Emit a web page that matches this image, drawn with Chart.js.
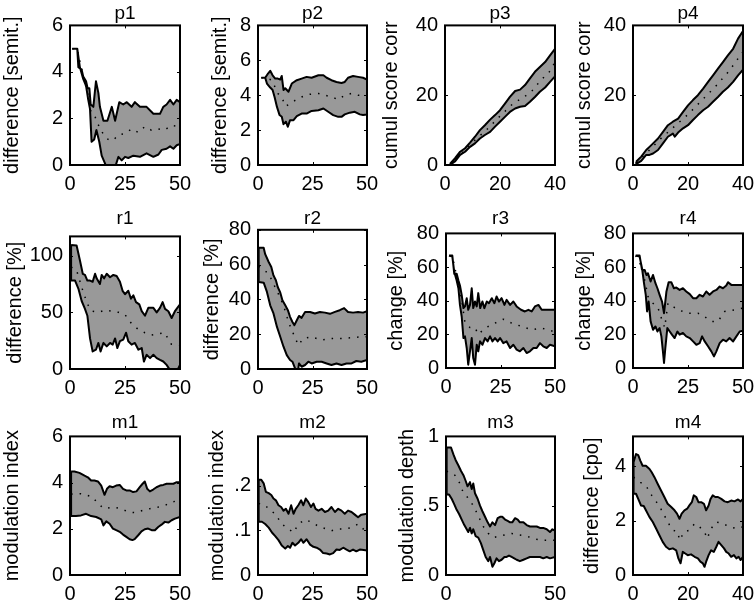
<!DOCTYPE html>
<html>
<head>
<meta charset="utf-8">
<script src="https://cdn.jsdelivr.net/npm/chart.js"></script>
<style>
html, body { margin: 0; padding: 0; background: #fff; overflow: hidden; }
#fig { position: relative; width: 755px; height: 600px; }
#fig canvas { position: absolute; }
</style>
</head>
<body>
<div id="fig"></div>
<script>
// ---- data: [x, y] pairs (upper edge, lower edge, mean) ----
const p1Up = [[1,5],[3.3,5],[3.8,4.2],[5.3,4.1],[6,3.8],[7.3,3.6],[8,3.3],[8.8,3.3],[9.4,2.6],[10.6,2.5],[11.8,3.6],[12.9,3.1],[13.6,2.5],[15.2,1.9],[17,1.9],[19,2.5],[20.5,1.9],[22.4,2.7],[24.2,2.6],[25.8,2.7],[28,2.5],[29.5,2.7],[31.8,2.5],[34.8,2.5],[37.9,2.2],[40.9,2.2],[42.4,2.5],[43.9,2.6],[45.5,2.8],[47,2.6],[48.5,2.8],[50,2.7]];
const p1Lo = [[1,5],[3.3,5],[4.5,4.2],[6,3.7],[7.3,3.4],[8.3,2.8],[9.1,2.4],[9.8,1.0],[11,1.1],[12,1.5],[13.3,1.0],[14.4,0.4],[15.9,0.07],[17.4,-0.3],[19,0],[20.5,-0.1],[22,0.35],[23.5,0.2],[25,0.35],[26.5,0.3],[28.8,0.4],[31.8,0.35],[34.8,0.5],[37.9,0.35],[40.2,0.45],[41.7,0.65],[43.9,0.7],[45.5,0.8],[47,0.7],[48.5,0.85],[50,0.9]];
const p1Mean = [[1,5],[3.3,5],[6,3.8],[8,3.1],[9.5,2.3],[11,2.2],[12,1.9],[14,1.5],[16,1.2],[18,1.05],[20,1.1],[22,1.3],[25,1.35],[28,1.55],[31,1.4],[34,1.65],[37,1.5],[40,1.55],[43,1.5],[46,1.7],[50,1.65]];

const p2Up = [[1.5,5],[3.3,5],[4.6,5.24],[5.6,5.4],[6.7,5.14],[7.9,4.95],[9.1,4.95],[10.2,4.9],[10.9,5.1],[11.7,4.3],[12.5,4.4],[14,4.2],[15.5,4.67],[17.8,4.86],[20,4.95],[22.3,5.05],[24.6,5],[27.7,5.14],[30,5.14],[31.5,5],[33.7,4.86],[36,4.76],[38.3,4.7],[39.8,4.76],[41.3,5],[43.6,5.1],[45.9,5.05],[48.2,5],[50,4.9]];
const p2Lo = [[1.5,5],[3.3,5],[4.1,4.67],[5.6,4.44],[6.7,4.3],[7.6,3.9],[8.7,3.33],[9.9,2.86],[10.9,2.76],[11.7,2.34],[12.8,2.48],[13.7,2.19],[14.7,2.57],[16.3,2.57],[17.8,2.8],[20,2.95],[22.3,2.95],[24.6,3.1],[27.7,3.14],[30,3.24],[32.2,3.05],[34.5,2.86],[36.8,2.76],[38.3,2.76],[39.8,2.9],[42.1,3],[44.4,3.05],[46.7,2.9],[48.2,2.86],[50,2.9]];
const p2Mean = [[1.5,5],[3.3,5],[6.4,4.86],[9.1,4.1],[10.9,3.9],[12.5,3.37],[14.7,3.5],[17,3.7],[20,3.9],[23,4.04],[27.7,4.1],[30.7,4],[33.7,3.9],[36.8,3.75],[39.8,4],[42.9,4.1],[45.9,4],[50,4]];

const p3Up = [[1.8,0.3],[3.6,1.9],[5.5,3.8],[7.3,4.8],[9.1,6.4],[10.9,8.1],[12.7,10],[14.5,11.4],[16.4,13],[18.2,14.3],[20,15.7],[21.8,17.6],[23.6,19.5],[25.5,21.2],[27.3,21.6],[29.1,22.9],[30.9,24.8],[32.7,26.7],[34.5,28.1],[36.4,29.5],[38.2,31.4],[40,33.3]];
const p3Lo = [[1.8,0],[3.6,1],[5.5,2.9],[7.3,3.8],[9.1,5.2],[10.9,6.2],[12.7,7.6],[14.5,8.6],[16.4,9.5],[18.2,11],[20,12.4],[21.8,13.8],[23.6,15.2],[25.5,16.2],[27.3,16.7],[29.1,16.9],[30.9,18.1],[32.7,19.5],[34.5,21],[36.4,22.2],[38.2,23.8],[40,25.4]];
const p3Mean = [[1.8,0.1],[5,2.5],[10,6.5],[15,10],[20,14],[25,17.8],[28.5,19.3],[32,21.5],[35,24.5],[37.6,26.2],[40,29.5]];

const p4Up = [[1.2,1],[3,2.4],[4.8,4.3],[6,5.2],[7.3,6.2],[9.1,7.6],[10.9,9.5],[12.7,11.4],[14.5,12.4],[16.4,13.3],[18.2,15.2],[20,17.1],[21.8,18.6],[23.6,20],[25.5,21.9],[27.3,23.8],[29.1,25.7],[30.9,27.6],[32.7,29.5],[34.5,31.4],[36.4,33.3],[38.2,36.2],[40,38.4]];
const p4Lo = [[1.2,0.3],[3,1.2],[4.8,2.9],[6,2.9],[7.3,3.3],[9.1,4.3],[10.9,6.2],[12.7,8.1],[14.5,9],[15.2,8.1],[16.4,9.3],[18.2,10.5],[20,11.4],[21.8,12.9],[23.6,14.3],[25.5,15.7],[27.3,16.7],[29.1,18.1],[30.9,19.5],[32.7,21],[34.5,22.2],[36.4,23.8],[38.2,25.7],[40,27.3]];
const p4Mean = [[1.2,0.6],[5,3.5],[10,7.5],[15,11],[20,14.5],[25,18.5],[30,22.5],[35,27],[40,32.5]];

const r1Up = [[0.5,109.5],[3,109],[4.5,96],[5.8,84],[6.8,83],[7.9,78],[9.1,78],[10.3,77],[11.4,84],[12.1,80],[13.6,75],[14.4,83],[15.5,80],[16.7,84],[18.2,81],[19.7,83],[21.2,82],[22.7,77],[23.9,69],[25,66],[26.5,69],[27.7,62],[28.8,65],[30,59],[31.5,57],[32.6,51],[34.1,47],[35.6,54],[37.9,54],[39.4,50],[40.9,54],[42.1,59],[43.2,53],[44.7,51],[46.2,45],[47.7,51],[50,57]];
const r1Lo = [[0.5,78],[2.3,78],[3.8,71],[5.3,60],[6.8,53],[7.9,47],[9.1,27],[10.3,15.5],[11.8,17],[12.9,23],[13.9,15.5],[15.2,23],[16.7,20],[18.2,23],[19.4,21.5],[20.5,27],[21.5,18.5],[22.7,24.5],[24.2,26],[25.5,32],[26.5,24.5],[28,21.5],[29.5,23],[31.1,17],[32.6,18.5],[33.6,6.6],[34.8,12.5],[36.4,9.6],[37.9,12.5],[39.4,9.6],[40.9,8],[42.4,6.6],[43.9,3.6],[45.5,-1],[46.7,-7],[48.5,-2.4],[50,3.6]];
const r1Mean = [[0.5,90],[3,87],[6,68],[8,57],[10,51],[13,50],[16,52],[19,51],[22,50],[25,48],[28,40],[31,35],[34,32],[37,30],[40,31],[43,32],[46,22],[50,21]];

const r2Up = [[0.3,69.7],[2.6,69.7],[3.3,66],[4.9,61.5],[6.1,58.6],[7.1,53.8],[8.2,51],[9.1,47],[10.2,44],[11.2,39.5],[12.5,36.6],[13.7,33.8],[14.7,30],[15.8,27],[16.7,25.2],[17.8,28],[18.8,30.5],[20,29.4],[21.6,32.8],[23.9,32.8],[26.1,31.9],[28.4,32.8],[30.7,32.4],[33,31.7],[35.3,32.8],[37.5,33.8],[39.5,35],[41.3,32.8],[43.6,32.4],[45.9,32.8],[48.2,32.4],[50,33.2]];
const r2Lo = [[0.3,50],[2.6,49.6],[4.1,44.3],[5.6,36.6],[7.1,31.9],[8.7,24.2],[10.2,18.5],[11.7,12.8],[13.2,8],[14.7,5.2],[15.8,4.2],[17,0.4],[18.1,-3.4],[18.8,3.2],[20,1.3],[21.6,2.3],[23.1,4.2],[24.6,3.2],[26.9,4.2],[29.2,4.2],[31.5,3.2],[33.7,2.3],[36,3.2],[38.3,2.3],[40.6,3.2],[42.9,3.2],[45.1,4.6],[47.4,4.2],[50,5.2]];
const r2Mean = [[0.3,59],[4.9,54.8],[7.1,49],[9.4,43],[11.7,36.6],[14,27],[16.3,20],[18.5,13.7],[20.8,17.6],[24.6,18.5],[29.2,16.6],[33.7,17.6],[38.3,17.6],[42.9,18],[47.4,18.5],[50,18.5]];

const r3Up = [[1.4,66.8],[2.9,66.8],[3.8,56],[4.9,56],[5.7,52],[6.4,49],[7.2,43.5],[8,35.6],[8.7,36.6],[9.5,41.5],[10.2,34.6],[11,37.5],[11.8,47.4],[12.5,35.6],[13.3,39.5],[14.1,36.6],[14.8,44.5],[15.7,35.6],[16.7,39.5],[17.6,35.6],[18.7,39.5],[19.7,38.5],[21,41.5],[22.2,38.5],[23.2,42.5],[24.3,39.5],[25.5,41.5],[26.8,37.5],[27.8,40.5],[29.4,37.5],[30.9,39.5],[32.4,36.6],[34.4,34.6],[36.2,33.6],[37.8,34.6],[39.3,33.6],[40.8,36.6],[42.4,37.5],[43.9,34.6],[46.2,34.6],[48.5,34.6],[50,34.6]];
const r3Lo = [[1.4,66.8],[2.9,66.2],[3.8,57],[4.9,52],[5.7,47.4],[6.4,37.5],[7.2,30.6],[8,17.8],[8.7,18.8],[9.5,11.9],[10.2,2],[11,9.9],[11.8,17.8],[12.5,5.9],[13.3,2],[14.1,13.8],[14.8,9.9],[15.6,15.8],[16.7,13.8],[17.9,17.8],[19.1,15.8],[20.2,18.8],[21.3,15.8],[22.5,17.8],[23.7,15.8],[24.8,17.8],[26.3,14.8],[27.8,15.8],[29.4,11.9],[30.9,13.8],[32.4,10.9],[33.9,9.9],[35.5,11.9],[37,8.9],[38.5,9.9],[40.1,11.9],[41.6,11.9],[43.1,14.8],[44.6,12.9],[46.2,11.9],[47.7,13.8],[50,12.9]];
const r3Mean = [[1.4,66.8],[3,66],[5,54],[7,42],[8.7,27],[11,24],[13.3,24],[14.8,20],[17.9,23.7],[22.5,26.7],[26.3,29],[30.1,26.7],[34.7,24.7],[39.3,22.7],[43.9,23.7],[48.5,22],[50,22.7]];

const r4Up = [[1.2,66.8],[3,66.8],[4.1,58.3],[5.3,58.3],[6.1,55.3],[6.8,56.3],[8,51.4],[9.1,55.3],[10.2,50.4],[11.1,47.4],[12.1,43.5],[13.2,39.5],[14.1,32.6],[15.2,45.5],[16.2,51],[17.4,51],[18.6,47.4],[19.7,47.8],[21.2,46.4],[22.7,47.4],[24.2,45.5],[25.8,43.9],[27.3,41.5],[28.8,41.5],[30.3,43.5],[31.8,42.5],[33.3,45.5],[34.8,43.5],[36.4,45.5],[37.9,46.4],[39.4,48.4],[40.9,47.4],[42.4,49],[43.2,51],[44.7,49.4],[47,49.4],[50,49.4]];
const r4Lo = [[1.2,66.8],[3,66.2],[4.1,59.3],[5,50.4],[5.8,43.5],[6.4,33.6],[7.1,39.5],[8,27.7],[9.1,22.7],[10.2,24.7],[11.1,21.7],[12.1,23.7],[12.9,18.8],[13.6,9.9],[14.1,3],[14.7,11.9],[15.6,23.7],[16.7,21.7],[17.7,19.8],[18.9,17.8],[20.2,21.7],[21.2,19.8],[22.7,20.8],[24.2,18.8],[25.8,17.8],[27.3,15.8],[28.8,13.8],[30.3,14.8],[31.4,18.8],[32.6,15.8],[34.1,12.9],[35.6,9.9],[36.8,6.9],[37.9,9.9],[39.4,14.8],[40.9,16.8],[42.4,15.8],[43.9,17.8],[45.5,15.8],[47,18.8],[48.5,21.7],[50,22.1]];
const r4Mean = [[1.2,66.8],[4,60],[6,48],[6.8,42.5],[9.1,38.5],[11.4,35.6],[12.9,29.6],[14.4,24],[15.9,38.5],[20.4,34.6],[25,32.6],[29.5,32.6],[32,31],[35.6,27.7],[38.6,27.7],[41.7,33.6],[46.2,34.6],[50,35.6]];

const m1Up = [[0.5,4.48],[2,4.48],[4.3,4.42],[6.6,4.3],[8.1,4.23],[9.6,4.09],[11.1,4.09],[12.7,4.05],[14.2,3.87],[15.7,3.47],[16.8,3.73],[18,3.84],[19.5,3.8],[21,3.87],[22.6,3.9],[24.1,3.73],[25.6,3.66],[27.1,3.66],[28.7,3.59],[30.2,3.62],[31.7,3.8],[33,3.95],[34,4.05],[35.1,3.73],[36.3,3.62],[37.8,3.7],[39.3,3.8],[40.9,3.87],[42.4,3.9],[43.9,3.95],[45.4,3.95],[47,3.95],[48.5,4.02],[50,4.02]];
const m1Lo = [[0.5,2.55],[2.7,2.55],[5,2.58],[7.3,2.65],[9.6,2.55],[11.9,2.51],[14.2,2.41],[15.2,2.15],[16.5,2.32],[18,2.22],[19.5,2.01],[21,1.94],[22.6,1.87],[24.1,1.75],[25.6,1.65],[27.1,1.55],[28.4,1.51],[29.4,1.55],[31,1.72],[32.5,1.89],[34,1.98],[35.5,2.01],[37.1,1.94],[38.6,1.94],[40.1,2.08],[41.6,2.18],[43.1,2.3],[44.7,2.27],[46.2,2.37],[47.7,2.44],[50,2.51]];
const m1Mean = [[0.5,3.5],[5,3.52],[8.1,3.44],[10.4,3.37],[12.7,3.08],[15.7,2.87],[19.5,2.94],[23.3,2.87],[26.4,2.73],[29.4,2.7],[33.2,2.8],[36.3,2.87],[40.1,2.94],[43.1,3.01],[46.2,3.16],[50,3.23]];

const m2Up = [[0.3,0.213],[1.5,0.213],[2.6,0.205],[3.6,0.186],[4.9,0.183],[6.1,0.179],[7.1,0.171],[8.2,0.167],[9.4,0.156],[10.6,0.152],[11.7,0.144],[12.8,0.148],[14,0.137],[15.2,0.156],[16.3,0.137],[17.3,0.148],[18.5,0.156],[19.8,0.167],[20.8,0.156],[21.9,0.171],[23.1,0.163],[24.3,0.152],[25.4,0.16],[26.4,0.148],[27.7,0.144],[29.2,0.148],[30.7,0.141],[32.2,0.144],[33.7,0.152],[35.3,0.141],[36.8,0.148],[38.3,0.144],[39.8,0.137],[41.3,0.144],[42.9,0.141],[44.4,0.135],[45.9,0.129],[47.4,0.135],[50,0.137]];
const m2Lo = [[0.3,0.119],[1.8,0.119],[3.3,0.114],[4.9,0.106],[6.4,0.095],[7.9,0.087],[9.4,0.078],[10.9,0.066],[12.5,0.059],[13.7,0.065],[14.7,0.061],[15.8,0.072],[17,0.066],[18.5,0.072],[19.8,0.08],[20.8,0.072],[22.3,0.08],[23.9,0.068],[25.4,0.063],[26.9,0.061],[28.4,0.057],[29.9,0.049],[31.5,0.048],[33,0.046],[34.5,0.049],[36,0.057],[37.5,0.056],[39.1,0.061],[40.6,0.057],[42.1,0.053],[43.6,0.057],[45.1,0.053],[46.7,0.057],[48.5,0.056],[50,0.055]];
const m2Mean = [[0.3,0.16],[3.3,0.156],[5.6,0.144],[7.9,0.137],[10.9,0.114],[14,0.103],[16.3,0.095],[18.5,0.114],[21.6,0.124],[24.6,0.118],[27.7,0.109],[30.7,0.104],[33.7,0.099],[36.8,0.103],[39.8,0.103],[42.9,0.106],[45.9,0.114],[50,0.095]];

const m3Up = [[0.3,0.92],[2.3,0.92],[3.4,0.87],[4.4,0.83],[5.7,0.79],[6.9,0.75],[8,0.72],[9,0.68],[9.9,0.64],[11,0.67],[11.8,0.62],[12.5,0.66],[13.3,0.59],[14.5,0.55],[15.6,0.5],[16.7,0.46],[17.9,0.42],[19.1,0.38],[20.2,0.35],[21.3,0.38],[22.5,0.36],[23.7,0.41],[24.8,0.42],[25.8,0.42],[27.1,0.4],[28.3,0.39],[29.4,0.38],[30.4,0.38],[31.7,0.41],[32.9,0.4],[33.9,0.38],[35.5,0.38],[37,0.36],[38.5,0.35],[40.1,0.35],[41.6,0.35],[43.1,0.34],[44.6,0.34],[46.2,0.33],[47.7,0.31],[48.8,0.33],[50,0.32]];
const m3Lo = [[0.3,0.58],[1.4,0.58],[2.6,0.55],[3.8,0.51],[4.9,0.47],[6,0.44],[7.2,0.4],[8.4,0.36],[9.5,0.33],[10.2,0.31],[11,0.34],[11.8,0.3],[12.5,0.33],[13.6,0.28],[14.8,0.27],[16,0.23],[17.1,0.18],[18.2,0.13],[19.4,0.1],[20.2,0.13],[21.3,0.06],[22.2,0.085],[23.2,0.12],[24.3,0.1],[25.5,0.11],[26.8,0.13],[27.8,0.13],[28.9,0.14],[30.1,0.13],[31.3,0.12],[32.4,0.11],[33.9,0.1],[35.5,0.11],[37,0.12],[38.5,0.13],[40.1,0.13],[41.6,0.13],[43.1,0.13],[44.6,0.12],[46.2,0.13],[47.7,0.12],[50,0.13]];
const m3Mean = [[0.3,0.75],[4.1,0.72],[6.4,0.66],[8,0.59],[9.9,0.56],[12.1,0.51],[14.1,0.45],[15.6,0.4],[17.1,0.35],[19.4,0.3],[21.7,0.27],[24.2,0.28],[27.1,0.29],[30.1,0.3],[33.1,0.29],[37,0.28],[40.8,0.26],[43.9,0.25],[46.9,0.25],[50,0.25]];

const m4Up = [[0.2,4.15],[1.1,4.45],[1.9,4.41],[2.7,4.2],[3.5,4.02],[4.7,4.02],[6,3.9],[6.8,3.78],[7.8,3.6],[9,3.35],[10.2,3.11],[11.4,2.87],[12.6,2.62],[13.9,2.5],[15.1,2.38],[16,2.26],[16.9,2.07],[17.7,2.26],[18.7,2.38],[19.7,2.44],[20.5,2.56],[21.4,2.68],[22.1,2.93],[23,2.87],[23.8,2.68],[24.8,2.68],[25.8,2.62],[26.6,2.38],[27.5,2.56],[28.2,2.8],[29,2.93],[29.9,2.87],[30.9,2.87],[32.1,2.8],[33.3,2.71],[34.5,2.68],[35.7,2.74],[36.9,2.71],[38.2,2.78],[39.1,2.71],[40,2.8]];
const m4Lo = [[0.2,2.99],[1.1,2.99],[1.9,2.8],[2.9,2.56],[3.9,2.54],[4.7,2.38],[6,2.13],[7.2,1.95],[8.4,1.71],[9.6,1.46],[10.8,1.22],[12,1.04],[13.2,0.95],[14.5,0.98],[15.7,0.91],[16.5,0.61],[17.3,0.43],[18.1,0.85],[19,0.79],[19.9,0.73],[21.1,0.76],[22.4,0.67],[23.6,0.61],[24.5,0.49],[25.4,0.43],[26,0.3],[26.6,0.49],[27.5,0.73],[28.4,0.91],[29.4,0.85],[30.3,1.04],[31.1,1.22],[32.1,1.1],[33.1,0.98],[33.9,0.85],[34.8,0.79],[35.7,0.67],[36.7,0.73],[37.6,0.61],[38.4,0.67],[39.1,0.55],[40,0.67]];
const m4Mean = [[0.2,3.6],[2.7,3.41],[4.7,3.29],[6.8,2.93],[9,2.62],[10.8,2.32],[12.6,1.95],[14.5,1.65],[16.3,1.59],[16.9,1.28],[18.7,1.59],[20.5,1.65],[22.4,1.89],[24.2,1.77],[26,1.59],[27,1.34],[28.4,1.71],[30.3,1.95],[32.7,1.89],[35.1,1.77],[37.6,1.71],[40,1.77]];

// tick values
const xTicks50 = [0, 25, 50];
const xTicks40 = [0, 20, 40];
const xTicksM3 = [0, 50];
const yTicks6 = [0, 2, 4, 6];
const yTicks8 = [0, 2, 4, 6, 8];
const yTicks40 = [0, 20, 40];
const yTicksR1 = [0, 50, 100];
const yTicks80 = [0, 20, 40, 60, 80];
const yTicksM2 = [0, 0.1, 0.2];
const yTicksM3 = [0, 0.5, 1];
const yTicksM4 = [0, 2, 4];

Chart.defaults.font.family = "'Liberation Sans', Arial, Helvetica, sans-serif";
Chart.defaults.color = '#000';

// matlab style labels: .5 instead of 0.5
function fmtTick(v) {
    if (v > 0 && v < 1) return String(v).replace(/^0/, '');
    return String(v);
}

// black frame + small inward tick marks on all four sides
const boxPlugin = {
    id: 'box',
    afterDatasetsDraw(chart) {
        const { ctx, chartArea: a, scales } = chart;
        ctx.save();
        ctx.strokeStyle = '#000';
        ctx.lineWidth = 1;
        ctx.beginPath();
        scales.x.ticks.forEach(t => {
            const px = Math.round(scales.x.getPixelForValue(t.value)) + 0.5;
            ctx.moveTo(px, a.bottom); ctx.lineTo(px, a.bottom - 3);
            ctx.moveTo(px, a.top); ctx.lineTo(px, a.top + 3);
        });
        scales.y.ticks.forEach(t => {
            const py = Math.round(scales.y.getPixelForValue(t.value)) + 0.5;
            ctx.moveTo(a.left, py); ctx.lineTo(a.left + 3, py);
            ctx.moveTo(a.right, py); ctx.lineTo(a.right - 3, py);
        });
        ctx.stroke();
        ctx.lineWidth = 2;
        ctx.strokeRect(a.left, a.top, a.right - a.left, a.bottom - a.top);
        ctx.restore();
    }
};

// panel layout: box = [left, top, right, bottom] of the plot frame
const panels = [
    { title: 'p1', ylabel: 'difference [semit.]', up: p1Up, lo: p1Lo, mean: p1Mean, xMax: 50, xTicks: xTicks50, yMax: 6, yTicks: yTicks6, box: [70, 25, 180, 165], titleY: 13, labelOff: 58 },
    { title: 'p2', ylabel: 'difference [semit.]', up: p2Up, lo: p2Lo, mean: p2Mean, xMax: 50, xTicks: xTicks50, yMax: 8, yTicks: yTicks8, box: [258, 25, 367, 165], titleY: 13, labelOff: 38 },
    { title: 'p3', ylabel: 'cumul score corr', up: p3Up, lo: p3Lo, mean: p3Mean, xMax: 40, xTicks: xTicks40, yMax: 40, yTicks: yTicks40, box: [445, 25, 555, 165], titleY: 13, labelOff: 54 },
    { title: 'p4', ylabel: 'cumul score corr', up: p4Up, lo: p4Lo, mean: p4Mean, xMax: 40, xTicks: xTicks40, yMax: 40, yTicks: yTicks40, box: [633, 25, 743, 165], titleY: 13, labelOff: 49 },
    { title: 'r1', ylabel: 'difference [%]', up: r1Up, lo: r1Lo, mean: r1Mean, xMax: 50, xTicks: xTicks50, yMax: 117, yTicks: yTicksR1, box: [70, 236, 180, 369], titleY: 218, labelOff: 55 },
    { title: 'r2', ylabel: 'difference [%]', up: r2Up, lo: r2Lo, mean: r2Mean, xMax: 50, xTicks: xTicks50, yMax: 80, yTicks: yTicks80, box: [258, 229, 367, 369], titleY: 218, labelOff: 46 },
    { title: 'r3', ylabel: 'change [%]', up: r3Up, lo: r3Lo, mean: r3Mean, xMax: 50, xTicks: xTicks50, yMax: 80, yTicks: yTicks80, box: [446, 233, 555, 368], titleY: 218, labelOff: 50 },
    { title: 'r4', ylabel: 'change [%]', up: r4Up, lo: r4Lo, mean: r4Mean, xMax: 50, xTicks: xTicks50, yMax: 80, yTicks: yTicks80, box: [633, 233, 743, 368], titleY: 218, labelOff: 49 },
    { title: 'm1', ylabel: 'modulation index', up: m1Up, lo: m1Lo, mean: m1Mean, xMax: 50, xTicks: xTicks50, yMax: 6, yTicks: yTicks6, box: [70, 436, 180, 575], titleY: 422, labelOff: 58 },
    { title: 'm2', ylabel: 'modulation index', up: m2Up, lo: m2Lo, mean: m2Mean, xMax: 50, xTicks: xTicks50, yMax: 0.31, yTicks: yTicksM2, box: [258, 436, 367, 575], titleY: 422, labelOff: 41 },
    { title: 'm3', ylabel: 'modulation depth', up: m3Up, lo: m3Lo, mean: m3Mean, xMax: 50, xTicks: xTicksM3, yMax: 1, yTicks: yTicksM3, box: [446, 436, 555, 575], titleY: 422, labelOff: 39 },
    { title: 'm4', ylabel: 'difference [cpo]', up: m4Up, lo: m4Lo, mean: m4Mean, xMax: 40, xTicks: xTicks40, yMax: 5.1, yTicks: yTicksM4, box: [633, 436, 743, 575], titleY: 422, labelOff: 41 }
];

const toPts = arr => arr.map(([x, y]) => ({ x, y }));
const TITLE_SIZE = 19;
const TICK_SIZE = 20;
const RIGHT_PAD = 16;

panels.forEach(p => {
    const [l, t, r, b] = p.box;
    const yw = p.labelOff + 12;           // width of the y axis block
    const titleH = TITLE_SIZE * 1.2;
    const cl = l - yw;
    const ct = p.titleY - titleH / 2;
    const cw = r + RIGHT_PAD - cl;
    const ch = b + 40 - ct;

    const canvas = document.createElement('canvas');
    canvas.width = cw;
    canvas.height = ch;
    canvas.style.left = cl + 'px';
    canvas.style.top = ct + 'px';
    canvas.style.width = cw + 'px';
    canvas.style.height = ch + 'px';
    document.getElementById('fig').appendChild(canvas);

    // closed outline: upper edge forward, lower edge back, then close
    const band = p.up.concat(p.lo.slice().reverse(), [p.up[0]]);

    new Chart(canvas, {
        type: 'scatter',
        data: {
            datasets: [
                {
                    data: toPts(p.mean),
                    showLine: true,
                    fill: false,
                    borderColor: '#000',
                    borderWidth: 1.5,
                    borderDash: [1.5, 7],
                    pointRadius: 0,
                    clip: 0
                },
                {
                    data: toPts(band),
                    showLine: true,
                    fill: 'shape',
                    backgroundColor: '#999999',
                    borderColor: '#000',
                    borderWidth: 2,
                    borderJoinStyle: 'round',
                    pointRadius: 0,
                    clip: 0
                }
            ]
        },
        options: {
            responsive: false,
            animation: false,
            devicePixelRatio: 1,
            events: [],
            layout: { padding: { left: 0, top: 0, right: RIGHT_PAD, bottom: 0 } },
            plugins: {
                legend: { display: false },
                tooltip: { enabled: false },
                title: {
                    display: true,
                    fullSize: false,             // centre over the plot frame
                    text: p.title,
                    font: { size: TITLE_SIZE, weight: 'normal' },
                    padding: { top: 0, bottom: Math.max(0, t - ct - titleH) }
                }
            },
            scales: {
                x: {
                    type: 'linear',
                    min: 0,
                    max: p.xMax,
                    grid: { display: false, drawTicks: false },
                    border: { display: false },
                    ticks: { padding: 7, maxRotation: 0, autoSkip: false, font: { size: TICK_SIZE }, callback: v => fmtTick(v) },
                    afterBuildTicks: s => { s.ticks = p.xTicks.map(v => ({ value: v })); },
                    afterFit: s => { s.height = 40; s.paddingLeft = 0; s.paddingRight = 0; }
                },
                y: {
                    type: 'linear',
                    min: 0,
                    max: p.yMax,
                    grid: { display: false, drawTicks: false },
                    border: { display: false },
                    ticks: { padding: 7, autoSkip: false, font: { size: TICK_SIZE }, callback: v => fmtTick(v) },
                    title: { display: true, text: p.ylabel, font: { size: 20 }, padding: 0 },
                    afterBuildTicks: s => { s.ticks = p.yTicks.map(v => ({ value: v })); },
                    afterFit: s => { s.width = yw; s.paddingTop = 0; s.paddingBottom = 0; }
                }
            }
        },
        plugins: [boxPlugin]
    });
});
</script>
</body>
</html>
